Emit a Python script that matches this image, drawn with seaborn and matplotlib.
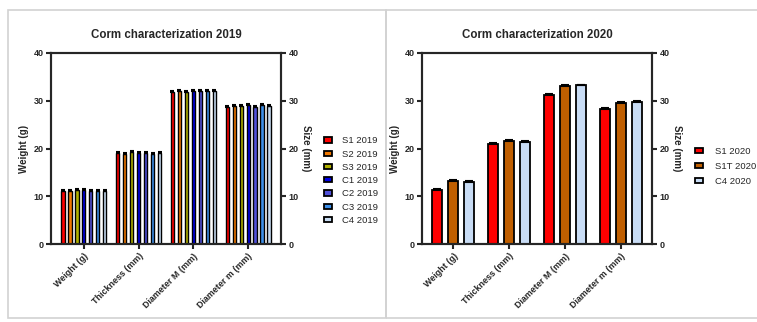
import numpy as np
import pandas as pd
import matplotlib
matplotlib.use("Agg")
import matplotlib.pyplot as plt
import seaborn as sns
from matplotlib.patches import Patch, Rectangle

# ---- data -------------------------------------------------------------
traits = ["Weight (g)", "Thickness (mm)", "Diameter M (mm)", "Diameter m (mm)"]

lines_2019 = ["S1 2019", "S2 2019", "S3 2019", "C1 2019", "C2 2019", "C3 2019", "C4 2019"]
s1_2019 = [11.1, 19.1, 31.8, 28.7]
s2_2019 = [11.1, 18.8, 32.0, 28.9]
s3_2019 = [11.3, 19.2, 31.8, 28.9]
c1_2019 = [11.4, 19.0, 32.1, 29.1]
c2_2019 = [11.2, 19.0, 32.0, 28.7]
c3_2019 = [11.2, 18.9, 32.1, 29.2]
c4_2019 = [11.1, 19.1, 32.0, 28.9]
err_2019 = [0.2, 0.2, 0.2, 0.2]

lines_2020 = ["S1 2020", "S1T 2020", "C4 2020"]
s1_2020 = [11.3, 20.9, 31.2, 28.3]
s1t_2020 = [13.2, 21.5, 33.1, 29.6]
c4_2020 = [12.9, 21.3, 33.2, 29.8]
err_2020 = [0.2, 0.25, 0.2, 0.2]

colors_2019 = ["#FF0000", "#F07800", "#B0B000", "#0000E6", "#5050D8", "#3D8FE8", "#C8DCF2"]
colors_2020 = ["#FF0000", "#C05F00", "#C8DCF5"]

# ---- style ------------------------------------------------------------
sns.set_style("ticks")
plt.rcParams["font.family"] = ["Liberation Sans", "DejaVu Sans"]
plt.rcParams["axes.linewidth"] = 1.5

fig = plt.figure(figsize=(7.57, 3.22), dpi=100)

# panel frames
frame_kw = dict(transform=fig.transFigure, fill=False, edgecolor="#d2d2d2", linewidth=1.2)
fig.patches.append(Rectangle((8 / 757, 4 / 322), 378 / 757, 308 / 322, **frame_kw))
fig.patches.append(Rectangle((386 / 757, 4 / 322), 380 / 757, 308 / 322, **frame_kw))


def draw_panel(rect, names, values, errors, colors, title, width, gap, edge_lw,
               capsize, legend_y, labelspacing, textpad):
    ax = fig.add_axes(rect)
    df = pd.DataFrame({
        "trait": np.tile(traits, len(names)),
        "line": np.repeat(names, len(traits)),
        "value": np.concatenate(values),
    })
    sns.barplot(data=df, x="trait", y="value", hue="line", order=traits,
                hue_order=names, palette=colors, width=width, gap=gap,
                errorbar=None, edgecolor="black", linewidth=edge_lw,
                saturation=1, legend=False, ax=ax)
    for cont, vals in zip(ax.containers, values):
        xs = [b.get_x() + b.get_width() / 2 for b in cont]
        ax.errorbar(xs, vals, yerr=[np.zeros(len(vals)), errors], fmt="none",
                    ecolor="black", elinewidth=edge_lw, capsize=capsize,
                    capthick=1.5, zorder=5)

    ax.set_ylim(0, 40)
    ax.set_yticks([0, 10, 20, 30, 40])
    ax.set_xlabel("")
    ax.set_ylabel("Weight (g)", fontsize=7, fontweight="bold", labelpad=3)
    ax.set_title(title, fontsize=8.3, fontweight="bold", pad=11)
    ax.set_xticks(range(len(traits)))
    ax.set_xticklabels(traits, rotation=45, ha="right", va="top",
                       rotation_mode="anchor", fontsize=6.4, fontweight="bold")
    ax.tick_params(axis="both", length=3.5, width=1.5, pad=2)
    for lab in ax.get_yticklabels():
        lab.set_fontsize(6.5)
        lab.set_fontweight("bold")
    for sp in ax.spines.values():
        sp.set_visible(True)
        sp.set_linewidth(1.5)

    ax2 = ax.twinx()
    ax2.set_ylim(0, 40)
    ax2.set_yticks([0, 10, 20, 30, 40])
    ax2.tick_params(axis="y", length=3.5, width=1.5, pad=2)
    for lab in ax2.get_yticklabels():
        lab.set_fontsize(6.5)
        lab.set_fontweight("bold")
    ax2.set_ylabel("Size (mm)", rotation=270, fontsize=7, fontweight="bold",
                   labelpad=9)
    for sp in ax2.spines.values():
        sp.set_linewidth(1.5)

    handles = [Patch(facecolor=c, edgecolor="black", linewidth=1.3) for c in colors]
    ax2.legend(handles, names, loc="center left", bbox_to_anchor=(1.187, legend_y),
               frameon=False, fontsize=6.8, handlelength=0.85, handleheight=0.5,
               handletextpad=textpad, labelspacing=labelspacing, borderpad=0,
               borderaxespad=0)
    return ax


draw_panel([51 / 757, 78 / 322, 230 / 757, 191 / 322], lines_2019,
           [s1_2019, s2_2019, s3_2019, c1_2019, c2_2019, c3_2019, c4_2019],
           err_2019, colors_2019, "Corm characterization 2019",
           width=0.89, gap=0.55, edge_lw=1.0, capsize=1.6, legend_y=0.332,
           labelspacing=0.45, textpad=1.1)

draw_panel([422 / 757, 78 / 322, 230 / 757, 191 / 322], lines_2020,
           [s1_2020, s1t_2020, c4_2020],
           err_2020, colors_2020, "Corm characterization 2020",
           width=0.86, gap=0.4, edge_lw=1.3, capsize=3.2, legend_y=0.406,
           labelspacing=0.65, textpad=1.3)

fig.savefig("out.png", dpi=100)
